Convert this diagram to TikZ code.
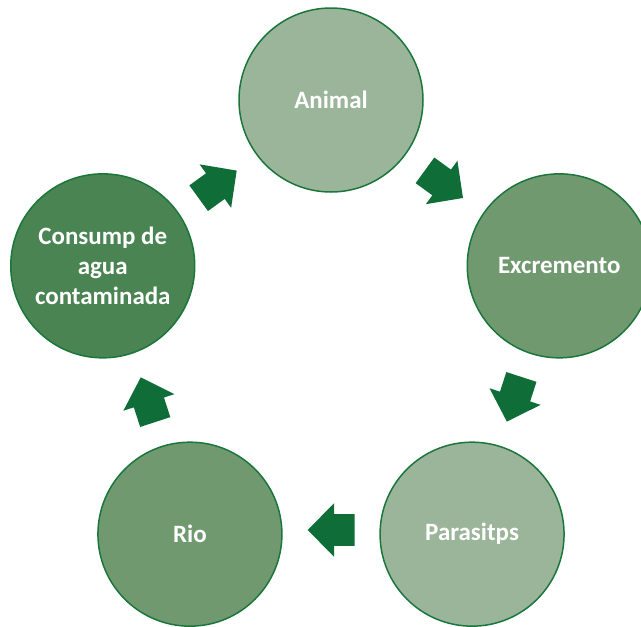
\documentclass[tikz,border=0pt]{standalone}
\usepackage{fontspec}
\setmainfont{Carlito}
\usetikzlibrary{shapes.arrows}
\definecolor{lightgreen}{RGB}{155,181,154}
\definecolor{midgreen}{RGB}{112,153,112}
\definecolor{deepgreen}{RGB}{74,132,83}
\definecolor{rimgreen}{RGB}{26,118,58}
\definecolor{arrowgreen}{RGB}{15,110,55}
\begin{document}
\begin{tikzpicture}[
        bubble/.style={circle,draw=rimgreen,line width=0.85pt,minimum size=3.68cm,inner sep=0pt,align=center,text=white,font=\fontsize{14.2}{16.8}\selectfont\bfseries},
        flow/.style={single arrow,fill=arrowgreen,draw=none,inner xsep=0pt,inner ysep=0.31cm,minimum height=0.94cm,minimum width=1.06cm,single arrow head extend=0.22cm,single arrow tip angle=91,anchor=center}]
        \useasboundingbox (0,0) rectangle (12.82,-12.52);
        \begin{scope}
        \clip (0,0) rectangle (12.82,-12.52);
        \draw (6.62,-6.8) ++(90:4.8) node (animal) [bubble,fill=lightgreen] {Animal};
        \draw (6.62,-6.8) ++(18:4.8) node (excremento) [bubble,fill=midgreen] {Excremento};
        \draw (6.62,-6.8) ++(-54:4.8) node (parasitps) [bubble,fill=lightgreen] {Parasitps};
        \draw (6.62,-6.8) ++(234:4.8) node (rio) [bubble,fill=midgreen] {Rio};
        \draw (6.62,-6.8) ++(162:4.8) node (consump) [bubble,fill=deepgreen] {Consump de\\agua\\contaminada};
        \end{scope}

        % block arrows between the circles, pulled back towards their tails
        \draw (6.62,-6.8) ++(54:3.85) ++(144:0.16) node (arrowA) [flow,rotate=-36] {};
        \draw (6.62,-6.8) ++(-18:3.85) ++(72:0.16) node (arrowB) [flow,rotate=-108] {};
        \draw (6.62,-6.8) ++(-90:3.8) ++(0:0.16) node (arrowC) [flow,rotate=180] {};
        \draw (6.62,-6.8) ++(198:3.85) ++(-72:0.16) node (arrowD) [flow,rotate=108] {};
        \draw (6.62,-6.8) ++(126:3.85) ++(-144:0.16) node (arrowE) [flow,rotate=36] {};
\end{tikzpicture}
\end{document}
